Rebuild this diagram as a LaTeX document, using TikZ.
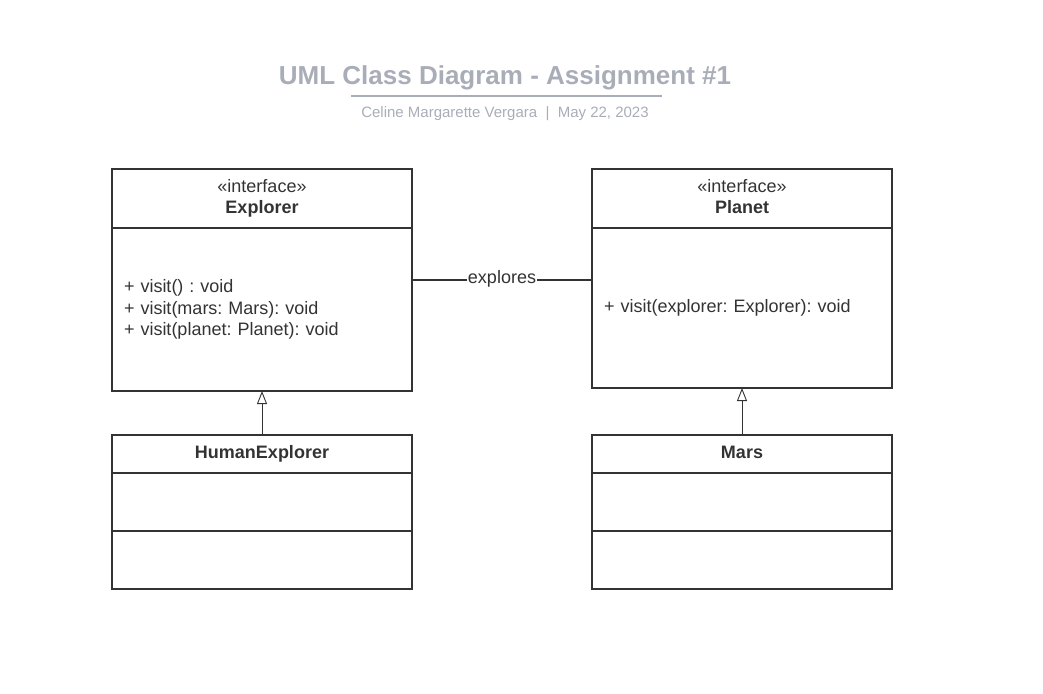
\documentclass[tikz,border=0pt]{standalone}
\usepackage{fontspec}
\setmainfont{Liberation Sans}
\usetikzlibrary{arrows.meta,positioning}
\frenchspacing

\definecolor{titlegray}{HTML}{A8ADB7}
\definecolor{ink}{HTML}{333333}

\tikzset{
  umlbox/.style={draw=ink,line width=1.5pt,minimum width=300pt,inner sep=0pt,outer sep=0pt},
  headbox/.style={umlbox,text=ink,align=center,text width=276pt,
    font=\fontsize{18}{21.6}\selectfont},
  bodybox/.style={inner xsep=12pt,inner ysep=0pt,outer sep=0pt,text=ink,align=left,
    text width=276pt,font=\fontsize{18}{21.6}\selectfont},
  inherit/.style={draw=ink,line width=0.9pt,-{Triangle[open,length=13pt,width=10pt]}},
  assoc/.style={draw=ink,line width=1.5pt},
  assoclabel/.style={fill=white,inner sep=1pt,text=ink,font=\fontsize{18}{21.6}\selectfont}
}

\begin{document}
\begin{tikzpicture}[x=1pt,y=-1pt]
  \useasboundingbox (0,0) rectangle (1043,693);

  % title
  \node[text=titlegray,font=\bfseries\fontsize{26}{31}\selectfont] (title) at (505,78)
    {UML Class Diagram - Assignment \#1};
  \node[fill=titlegray,minimum width=311pt,minimum height=2pt,inner sep=0pt] (rule) at (506.5,96) {};
  \node[text=titlegray,font=\fontsize{15}{18}\selectfont] (subtitle) at (505,114)
    {Celine Margarette Vergara\ \ |\ \ May 22, 2023};

  % Explorer
  \node[umlbox,minimum height=222pt] (explorer) at (262,280) {};
  \node[headbox,minimum height=59pt,below=0pt of explorer.north] (explorerhead)
    {\strut«interface»\\\strut\textbf{Explorer}};
  \node[bodybox,minimum height=163pt,below=0pt of explorerhead] (explorerbody)
    {+ visit() : void\\+ visit(mars: Mars): void\\+ visit(planet: Planet): void};

  % Planet
  \node[umlbox,minimum height=219pt] (planet) at (742,278.5) {};
  \node[headbox,minimum height=59pt,below=0pt of planet.north] (planethead)
    {\strut«interface»\\\strut\textbf{Planet}};
  \node[bodybox,minimum height=160pt,below=0pt of planethead] (planetbody)
    {+ visit(explorer: Explorer): void};

  % HumanExplorer
  \node[umlbox,minimum height=154pt] (human) at (262,512) {};
  \node[headbox,minimum height=38pt,below=0pt of human.north] (humanhead)
    {\strut\textbf{HumanExplorer}};
  \node[umlbox,minimum height=58pt,below=0pt of humanhead] (humanattr) {};

  % Mars
  \node[umlbox,minimum height=154pt] (mars) at (742,512) {};
  \node[headbox,minimum height=38pt,below=0pt of mars.north] (marshead)
    {\strut\textbf{Mars}};
  \node[umlbox,minimum height=58pt,below=0pt of marshead] (marsattr) {};

  % relations
  \draw[assoc] (explorer.east) -- node[assoclabel,yshift=1.5pt] {explores} (explorer.east -| planet.west);
  \draw[inherit] (human.north) -- (explorer.south);
  \draw[inherit] (mars.north) -- (planet.south);
\end{tikzpicture}
\end{document}
